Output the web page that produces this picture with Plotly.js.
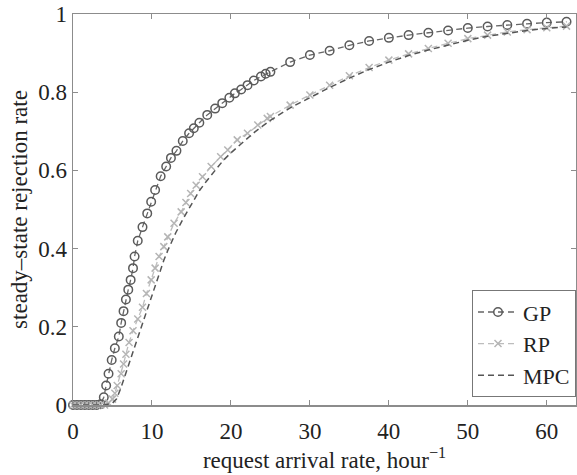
<!DOCTYPE html>
<html>
<head>
<meta charset="utf-8">
<script src="https://cdn.plot.ly/plotly-3.0.1.min.js"></script>
<style>html,body{margin:0;padding:0;background:#fff;}#chart{width:577px;height:475px;}</style>
</head>
<body>
<div id="chart"></div>
<script>
// GP series
const gpX = [0,0.5,1,1.5,2,2.5,3,3.5,3.9,4.2,4.5,4.9,5.3,5.8,6.1,6.4,6.7,7.0,7.3,7.6,7.8,8.2,8.8,9.4,9.9,10.4,11.1,11.8,12.4,13.1,13.9,14.7,15.3,16.0,17.0,18.0,18.9,19.8,20.5,21.3,22.1,22.9,23.8,24.4,25,27.5,30,32.5,35,37.5,40,42.5,45,47.5,50,52.5,55,57.5,60,62.5];
const gpY = [0,0,0,0,0,0,0,0.002,0.02,0.05,0.08,0.115,0.145,0.175,0.21,0.24,0.27,0.295,0.32,0.35,0.38,0.42,0.455,0.49,0.52,0.55,0.585,0.61,0.632,0.65,0.675,0.695,0.708,0.722,0.742,0.758,0.772,0.786,0.797,0.807,0.818,0.83,0.84,0.847,0.852,0.877,0.895,0.906,0.92,0.931,0.939,0.946,0.952,0.958,0.964,0.968,0.972,0.975,0.978,0.98];
// RP series
const rpX = [0,0.5,1,1.5,2,2.5,3,3.5,4,4.5,5,5.3,5.6,6.1,6.4,6.7,7.1,7.6,8.2,8.8,9.3,9.9,10.4,10.9,11.5,12,12.8,13.7,14.3,14.9,15.6,16.4,17.5,18.7,19.6,20.8,22.1,23.4,24.6,25,27.5,30,32.5,35,37.5,40,42.5,45,47.5,50,52.5,55,57.5,60,62.5];
const rpY = [0,0,0,0,0,0,0,0,0,0.005,0.015,0.03,0.05,0.08,0.105,0.13,0.16,0.19,0.22,0.25,0.285,0.32,0.35,0.38,0.405,0.43,0.465,0.494,0.518,0.541,0.562,0.584,0.61,0.635,0.652,0.678,0.695,0.716,0.733,0.738,0.767,0.793,0.818,0.842,0.863,0.882,0.898,0.912,0.925,0.937,0.946,0.954,0.96,0.965,0.969];
// MPC series
const mpcX = [0,1,2,3,4,5,5.5,6,6.5,7,7.5,8,8.5,9,9.5,10,10.5,11,11.5,12,13,14,15,16,17,18,19,20,21,22,23,24,25,27.5,30,32.5,35,37.5,40,42.5,45,47.5,50,52.5,55,57.5,60,62.5];
const mpcY = [0,0,0,0,0,0.005,0.015,0.04,0.07,0.1,0.135,0.165,0.195,0.225,0.255,0.285,0.315,0.345,0.37,0.395,0.44,0.478,0.515,0.548,0.575,0.6,0.625,0.645,0.663,0.68,0.698,0.713,0.728,0.76,0.787,0.812,0.836,0.858,0.877,0.894,0.908,0.921,0.933,0.943,0.951,0.958,0.963,0.967];
const xTicks = [0,10,20,30,40,50,60];
const yTicks = [0,0.2,0.4,0.6,0.8,1];

const serif = '"Liberation Serif", "DejaVu Serif", serif';
const tickFont = {family: serif, size: 23, color: '#222'};
const titleFont = {family: serif, size: 23, color: '#222'};

const traces = [
  {x: gpX, y: gpY, name: 'GP', type: 'scatter', mode: 'lines+markers', cliponaxis: false,
   line: {color: '#666', width: 1.3, dash: '6px,4px'},
   marker: {symbol: 'circle-open', size: 8.5, color: '#5a5a5a', line: {width: 1.5, color: '#5a5a5a'}}},
  {x: rpX, y: rpY, name: 'RP', type: 'scatter', mode: 'lines+markers', cliponaxis: false,
   line: {color: '#bdbdbd', width: 1.3, dash: '6px,4px'},
   marker: {symbol: 'x-thin-open', size: 7, color: '#b5b5b5', line: {width: 1.5, color: '#b5b5b5'}}},
  {x: mpcX, y: mpcY, name: 'MPC', type: 'scatter', mode: 'lines', cliponaxis: false,
   line: {color: '#555', width: 1.5, dash: '6px,4px'}}
];

const axisCommon = {
  showgrid: false, zeroline: false, showline: true, mirror: 'ticks',
  linecolor: '#8c8c8c', linewidth: 1.5, ticks: 'inside', ticklen: 5,
  tickcolor: '#8c8c8c', tickwidth: 1, tickfont: tickFont
};

const layout = {
  width: 577, height: 475,
  margin: {l: 73, r: 1, t: 14, b: 70},
  paper_bgcolor: '#fff', plot_bgcolor: '#fff',
  font: tickFont,
  showlegend: true,
  xaxis: Object.assign({}, axisCommon, {
    range: [0, 63.7], tickvals: xTicks, ticktext: xTicks.map(String),
    ticklabelstandoff: 5,
    title: {text: 'request arrival rate, hour<sup>\u22121</sup>', font: titleFont, standoff: 0}
  }),
  yaxis: Object.assign({}, axisCommon, {
    range: [0, 1], tickvals: yTicks, ticktext: yTicks.map(String),
    title: {text: 'steady\u2013state rejection rate', font: titleFont, standoff: 4}
  }),
  legend: {
    x: 1.0, y: 0.02, xanchor: 'right', yanchor: 'bottom',
    bgcolor: '#fff', bordercolor: '#777', borderwidth: 1,
    font: {family: serif, size: 22, color: '#222'},
    itemwidth: 40, tracegroupgap: 0
  }
};

Plotly.newPlot('chart', traces, layout, {displayModeBar: false, staticPlot: true});
</script>
</body>
</html>
